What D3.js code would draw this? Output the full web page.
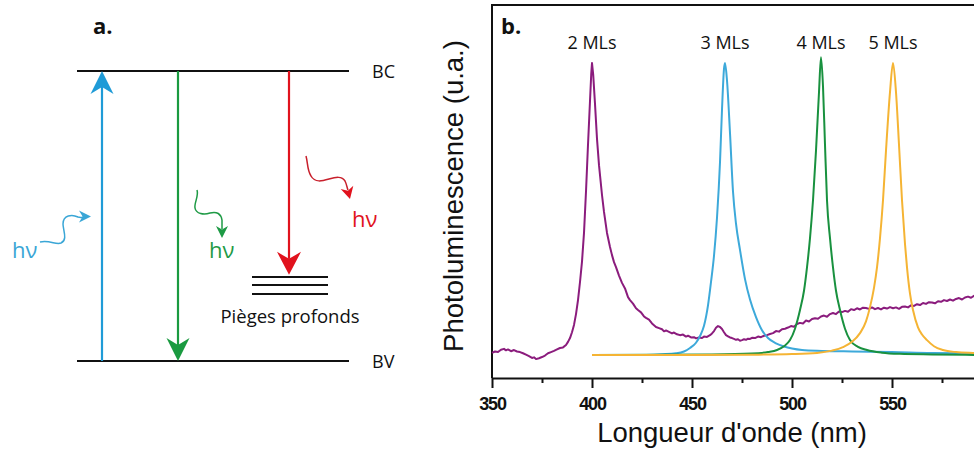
<!DOCTYPE html>
<html><head><meta charset="utf-8">
<script src="https://cdn.jsdelivr.net/npm/d3@7"></script>
<style>
html,body{margin:0;padding:0;background:#fff;}
svg{display:block;}
</style></head>
<body>
<svg id="chart" width="974" height="450"></svg>
<script>
// ---------- DATA ----------
const xTicks = [350, 400, 450, 500, 550];
const xMinorTicks = [375, 425, 475, 525, 575];
const peakLabels = ["2 MLs", "3 MLs", "4 MLs", "5 MLs"];
const peakPositions = [400, 466.5, 514.5, 550.5];

const ml2 = [[350,0.007],[351.5,0.012],[353,0.010],[354.5,0.018],[356,0.021],[357,0.016],[358,0.019],[359.5,0.013],[361,0.017],[362.5,0.012],[364,0.010],[365.5,0.006],[367,0.001],[368.5,-0.004],[370,-0.010],[371,-0.008],[372,-0.014],[373.5,-0.011],[375,-0.007],[376.5,-0.002],[378,0.006],[379.5,0.010],[381,0.014],[382.5,0.019],[384,0.024],[385.5,0.026],[387,0.034],[388,0.045],[389,0.058],[390,0.078],[391,0.103],[392,0.14],[393,0.188],[394,0.25],[395,0.32],[396,0.418],[397,0.56],[398,0.72],[399,0.87],[399.6,0.96],[400,1.0],[400.6,0.96],[401.5,0.86],[402.5,0.74],[403.5,0.65],[405,0.548],[406,0.49],[407.5,0.418],[409,0.37],[410,0.342],[411,0.318],[412,0.301],[413.5,0.272],[415,0.247],[416.5,0.228],[418,0.198],[419,0.188],[420.5,0.176],[422,0.16],[423,0.154],[424.5,0.146],[426,0.132],[427,0.127],[428.5,0.121],[430,0.108],[432,0.096],[433.5,0.092],[435,0.088],[436,0.081],[437,0.084],[438.5,0.079],[440,0.074],[441,0.077],[442.5,0.071],[444,0.068],[445.5,0.070],[447,0.063],[448,0.066],[449.5,0.060],[451,0.061],[452,0.057],[453.5,0.060],[455,0.058],[456,0.063],[457.5,0.062],[459,0.068],[460,0.074],[461,0.082],[462,0.093],[463,0.099],[464,0.096],[465,0.089],[466,0.078],[467,0.068],[468,0.064],[469,0.060],[470,0.058],[471,0.055],[472,0.052],[473,0.054],[474,0.049],[475,0.051],[476,0.054],[477,0.052],[478,0.056],[479,0.055],[480,0.059],[481.5,0.058],[483,0.063],[484.5,0.061],[486,0.066],[487.5,0.068],[489,0.072],[490.5,0.075],[492,0.082],[493.5,0.080],[495,0.088],[496.5,0.090],[498,0.094],[499.5,0.099],[501,0.097],[502.5,0.106],[504,0.110],[505.5,0.108],[507,0.118],[508.5,0.115],[510,0.123],[511.5,0.126],[513,0.124],[514.5,0.132],[516,0.135],[517.5,0.131],[519,0.140],[520.5,0.144],[522,0.140],[523.5,0.149],[525,0.147],[526.5,0.151],[528,0.148],[529.5,0.157],[531,0.154],[532.5,0.160],[534,0.156],[535.5,0.162],[537,0.161],[538.5,0.158],[540,0.163],[541.5,0.157],[543,0.161],[544.5,0.156],[546,0.162],[547.5,0.159],[549,0.164],[550.5,0.160],[552,0.163],[553.5,0.158],[555,0.165],[556.5,0.166],[558,0.163],[559.5,0.170],[561,0.168],[562.5,0.174],[564,0.171],[565.5,0.178],[567,0.175],[568.5,0.181],[570,0.180],[571.5,0.177],[573,0.184],[574.5,0.182],[576,0.188],[577.5,0.185],[579,0.190],[580.5,0.186],[582,0.192],[583.5,0.195],[585,0.190],[586.5,0.197],[588,0.200],[589.5,0.196],[591,0.203],[592.5,0.199],[594,0.204],[595,0.202]];

const ml3 = [[400,0],[420,0],[435,0.003],[442,0.006],[446,0.012],[449,0.024],[452,0.042],[454,0.065],[456,0.10],[458,0.17],[459.5,0.25],[461,0.34],[462.5,0.47],[464,0.66],[465,0.84],[466,0.98],[466.5,1.0],[467.5,0.94],[469,0.76],[470.5,0.56],[472,0.45],[474,0.36],[476.5,0.26],[479,0.19],[482,0.13],[485,0.085],[488,0.058],[492,0.040],[496,0.029],[500,0.022],[505,0.017],[515,0.014],[530,0.012],[550,0.010],[570,0.007],[595,0.006]];

const ml4 = [[400,0],[460,0.002],[480,0.005],[488,0.010],[492.5,0.017],[496,0.030],[499,0.051],[501.5,0.09],[504,0.154],[506,0.22],[507.5,0.30],[509,0.40],[510.5,0.53],[512,0.70],[513.5,0.90],[514.5,1.02],[515.5,0.92],[516.5,0.72],[517.5,0.53],[519,0.40],[520.5,0.30],[522,0.22],[524,0.154],[526.5,0.09],[529,0.051],[533,0.028],[537.5,0.017],[545,0.008],[554,0.004],[570,0.002],[595,0.0]];

const ml5 = [[400,0],[450,0],[480,0.001],[500,0.003],[512.5,0.007],[520,0.015],[525.5,0.027],[530,0.045],[534,0.075],[537,0.115],[539,0.164],[541,0.23],[542.5,0.30],[544,0.40],[545.5,0.53],[547,0.70],[549,0.90],[550.5,1.0],[552,0.90],[553.5,0.72],[555,0.53],[556.5,0.38],[557.5,0.30],[559,0.21],[560.5,0.154],[563,0.095],[565,0.07],[567.5,0.051],[571,0.030],[575.5,0.017],[582,0.010],[590.5,0.007],[595,0.006]];

const seriesColors = ["#8b1c7d", "#3da9da", "#19913f", "#f5b434"];

// Panel a: energy levels (0 = BV, 1 = BC)
const levelNames = ["BC", "BV"];
const levelEnergies = [1, 0];
const trapEnergies = [0.29, 0.262, 0.231];
const trapTip = 0.297;

// ---------- DRAW ----------
const svg = d3.select("#chart");
const black = "#111";

// ===== Panel b =====
const x = d3.scaleLinear().domain([350, 600]).range([492, 992]);
const y = d3.scaleLinear().domain([0, 1]).range([355, 63]);
const axisY = 378;

const gb = svg.append("g");
gb.append("line").attr("x1", 492).attr("x2", 974).attr("y1", 5).attr("y2", 5)
  .attr("stroke", black).attr("stroke-width", 2);
gb.append("line").attr("x1", 492).attr("x2", 492).attr("y1", 4).attr("y2", axisY)
  .attr("stroke", black).attr("stroke-width", 2);

const xAxis = d3.axisBottom(x).tickValues(xTicks).tickSize(10).tickSizeOuter(0).tickFormat(d3.format("d"));
const gx = gb.append("g").attr("transform", `translate(0,${axisY})`).call(xAxis);
gx.select(".domain").attr("stroke", black).attr("stroke-width", 2);
gx.selectAll(".tick line").attr("stroke", black).attr("stroke-width", 2);
gx.selectAll(".tick text").attr("font-family", "'Liberation Sans', Arial, sans-serif")
  .attr("font-weight", "bold").attr("font-size", 18).attr("fill", black)
  .attr("letter-spacing", "-1.2px").attr("dy", 0).attr("y", 32);
const xMinor = d3.axisBottom(x).tickValues(xMinorTicks).tickSize(5).tickFormat("");
const gxm = gb.append("g").attr("transform", `translate(0,${axisY})`).call(xMinor);
gxm.select(".domain").remove();
gxm.selectAll(".tick line").attr("stroke", black).attr("stroke-width", 2);

gb.append("text").attr("x", 732).attr("y", 442).attr("text-anchor", "middle")
  .attr("font-family", "'Liberation Sans', Arial, sans-serif").attr("font-size", 27.5)
  .attr("fill", black).text("Longueur d'onde (nm)");
gb.append("text").attr("transform", "translate(463,196) rotate(-90)").attr("text-anchor", "middle")
  .attr("font-family", "'Liberation Sans', Arial, sans-serif").attr("font-size", 27.5)
  .attr("fill", black).text("Photoluminescence (u.a.)");

const purpleLine = d3.line().x(d => x(d[0])).y(d => y(d[1])).curve(d3.curveLinear);
const smoothLine = d3.line().x(d => x(d[0])).y(d => y(d[1])).curve(d3.curveMonotoneX);

gb.append("path").datum(ml2).attr("d", purpleLine).attr("fill", "none")
  .attr("stroke", seriesColors[0]).attr("stroke-width", 2).attr("stroke-linejoin", "round");
[ml3, ml4, ml5].forEach((s, i) => {
  gb.append("path").datum(s).attr("d", smoothLine).attr("fill", "none")
    .attr("stroke", seriesColors[i + 1]).attr("stroke-width", 2).attr("stroke-linejoin", "round");
});

gb.selectAll("text.peak").data(peakLabels).enter().append("text").attr("class", "peak")
  .attr("x", (d, i) => x(peakPositions[i])).attr("y", 49).attr("text-anchor", "middle")
  .attr("font-family", "'Open Sans', sans-serif").attr("font-size", 18).attr("fill", black)
  .text(d => d);

gb.append("text").attr("x", 501).attr("y", 34).attr("font-family", "'Open Sans', sans-serif")
  .attr("font-weight", "bold").attr("font-size", 22).attr("fill", black).text("b.");

// ===== Panel a =====
const ga = svg.append("g");
const yE = d3.scaleLinear().domain([0, 1]).range([361, 71]);
const levelX0 = 77, levelX1 = 349;
ga.append("text").attr("x", 93).attr("y", 34).attr("font-family", "'Open Sans', sans-serif")
  .attr("font-weight", "bold").attr("font-size", 22).attr("fill", black).text("a.");

levelEnergies.forEach((e, i) => {
  ga.append("line").attr("x1", levelX0).attr("x2", levelX1).attr("y1", yE(e)).attr("y2", yE(e))
    .attr("stroke", black).attr("stroke-width", 2);
  ga.append("text").attr("x", 372).attr("y", yE(e) + 7).attr("font-family", "'Open Sans', sans-serif")
    .attr("font-size", 18).attr("fill", black).text(levelNames[i]);
});
trapEnergies.forEach(e => {
  ga.append("line").attr("x1", 252).attr("x2", 328).attr("y1", yE(e)).attr("y2", yE(e))
    .attr("stroke", black).attr("stroke-width", 2);
});
ga.append("text").attr("x", 290).attr("y", 323).attr("text-anchor", "middle")
  .attr("font-family", "'Open Sans', sans-serif").attr("font-size", 18.5).attr("fill", black)
  .text("Pièges profonds");

function arrowHead(g, tx, ty, dir, len, half, color) {
  const [dx, dy] = dir;
  const px = -dy, py = dx;
  const bx = tx - dx * len, by = ty - dy * len;
  const nx = tx - dx * len * 0.7, ny = ty - dy * len * 0.7;
  g.append("path").attr("d", `M${tx},${ty}L${bx + px * half},${by + py * half}L${nx},${ny}L${bx - px * half},${by - py * half}Z`)
    .attr("fill", color);
}
const blueA = "#1f9bd7", greenA = "#1a9a40", redA = "#e1121d";
ga.append("line").attr("x1", 102).attr("x2", 102).attr("y1", yE(0)).attr("y2", yE(1) + 16)
  .attr("stroke", blueA).attr("stroke-width", 2.2);
arrowHead(ga, 102, yE(1), [0, -1], 23, 11.5, blueA);
ga.append("line").attr("x1", 178).attr("x2", 178).attr("y1", yE(1)).attr("y2", yE(0) - 16)
  .attr("stroke", greenA).attr("stroke-width", 2.2);
arrowHead(ga, 178, yE(0), [0, 1], 23, 11.5, greenA);
ga.append("line").attr("x1", 289).attr("x2", 289).attr("y1", yE(1)).attr("y2", yE(trapTip) - 16)
  .attr("stroke", redA).attr("stroke-width", 2.2);
arrowHead(ga, 289, yE(trapTip), [0, 1], 23, 12, redA);

const waveBlue = "#3aa6d6";
ga.append("path").attr("d", "M40,242 C50,240 56,245 61,243 C68,240 63,230 63,224 C63,215 72,214 78,217 C81,218 83,217 85,217")
  .attr("fill", "none").attr("stroke", waveBlue).attr("stroke-width", 1.5);
arrowHead(ga, 91, 216.5, [1, 0], 12, 6, waveBlue);
ga.append("text").attr("x", 12).attr("y", 258).attr("font-family", "'Open Sans', sans-serif")
  .attr("font-size", 22).attr("fill", waveBlue).text("hν");

const waveGreen = "#1e9a45";
ga.append("path").attr("d", "M197,190 C199,196 194,203 195,208 C196,214 204,215 210,213 C217,211 221,214 222,220 L222,229")
  .attr("fill", "none").attr("stroke", waveGreen).attr("stroke-width", 1.5);
arrowHead(ga, 222, 238, [0, 1], 12, 6, waveGreen);
ga.append("text").attr("x", 209).attr("y", 258).attr("font-family", "'Open Sans', sans-serif")
  .attr("font-size", 22).attr("fill", waveGreen).text("hν");

const waveRed = "#c8202c";
ga.append("path").attr("d", "M306,156 C308,163 307,170 311,176 C315,183 322,181 329,179 C336,177 342,176 345,181 C347,185 347,188 348,190")
  .attr("fill", "none").attr("stroke", waveRed).attr("stroke-width", 1.5);
arrowHead(ga, 350, 199, [0.25, 0.97], 12, 6.5, redA);
ga.append("text").attr("x", 352).attr("y", 227).attr("font-family", "'Open Sans', sans-serif")
  .attr("font-size", 22).attr("fill", redA).text("hν");
</script>
</body></html>
